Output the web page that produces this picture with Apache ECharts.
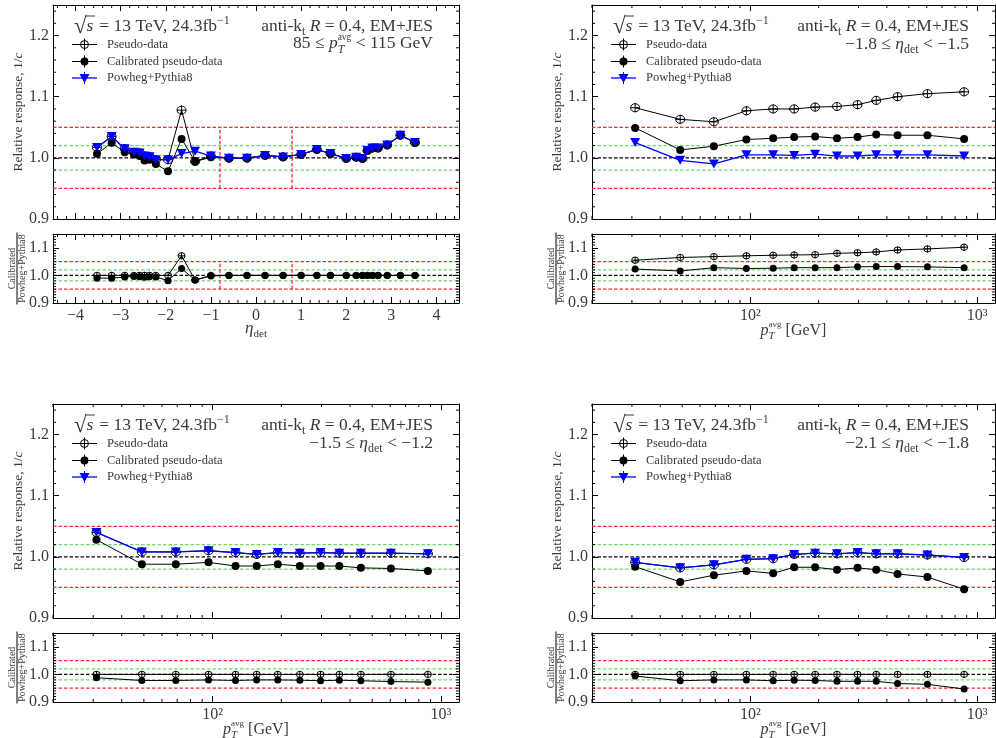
<!DOCTYPE html>
<html><head><meta charset="utf-8">
<script src="https://cdn.jsdelivr.net/npm/echarts@6/dist/echarts.min.js"></script>
<style>html,body{margin:0;padding:0;background:#fff}#c{width:996px;height:738px}</style>
</head><body><div id="c"></div>
<script>
// ---------------- data ----------------
const etaBins = [-3.525,-3.2,-2.91,-2.705,-2.58,-2.47,-2.36,-2.22,-1.95,-1.65,-1.35,-1.0,-0.6,-0.2,0.2,0.6,1.0,1.35,1.65,2.0,2.22,2.36,2.47,2.58,2.705,2.91,3.2,3.525];
const powhegTL = [1.017,1.035,1.015,1.009,1.008,1.003,1.002,0.997,0.997,1.007,1.011,1.003,0.9995,0.9995,1.004,1.0016,1.0055,1.0137,1.007,0.999,1.001,0.999,1.012,1.016,1.016,1.021,1.037,1.025];
const pseudoTL = [1.017,1.035,1.015,1.009,1.008,1.003,1.002,0.997,0.997,1.078,0.994,1.003,0.9995,0.9995,1.004,1.0016,1.0055,1.0137,1.007,0.999,1.001,0.999,1.012,1.016,1.016,1.021,1.037,1.025];
const calibTL = [1.0066,1.0246,1.0093,1.0055,1.003,0.9956,0.997,0.990,0.978,1.031,0.994,1.001,0.9995,0.9995,1.004,1.0016,1.0055,1.0137,1.007,0.999,1.001,0.999,1.012,1.016,1.016,1.021,1.037,1.025];
const ratioPseudoTL = [1.0,1.0,1.0,1.0,1.0,1.0,1.0,1.0,1.0,1.071,0.983,1.0,1.0,1.0,1.0,1.0,1.0,1.0,1.0,1.0,1.0,1.0,1.0,1.0,1.0,1.0,1.0,1.0];
const ratioCalibTL = [0.990,0.990,0.994,0.996,0.995,0.993,0.995,0.994,0.981,1.025,0.983,0.998,1.0,1.0,1.0,1.0,1.0,1.0,1.0,1.0,1.0,1.0,1.0,1.0,1.0,1.0,1.0,1.0];

const ptBins = [31,49,69,96,126,156,193,241,297,359,446,604,877];
const pseudoTR = [1.082,1.063,1.059,1.077,1.080,1.080,1.083,1.084,1.087,1.094,1.100,1.105,1.108];
const calibTR = [1.049,1.013,1.019,1.030,1.032,1.034,1.035,1.032,1.034,1.038,1.037,1.037,1.031];
const powhegTR = [1.025,0.996,0.990,1.005,1.005,1.004,1.006,1.003,1.003,1.005,1.005,1.005,1.003];
const ratioPseudoTR = [1.055,1.065,1.068,1.071,1.073,1.074,1.075,1.080,1.082,1.085,1.092,1.096,1.102];
const ratioCalibTR = [1.023,1.016,1.028,1.025,1.026,1.028,1.028,1.028,1.031,1.032,1.032,1.031,1.028];

const pseudoBL = [1.040,1.008,1.008,1.010,1.007,1.004,1.007,1.006,1.007,1.006,1.006,1.006,1.005];
const calibBL = [1.028,0.988,0.988,0.991,0.985,0.985,0.988,0.985,0.985,0.985,0.982,0.981,0.977];
const powhegBL = [1.040,1.008,1.008,1.010,1.007,1.004,1.007,1.006,1.007,1.006,1.006,1.006,1.005];
const ratioPseudoBL = [1.0,1.0,1.0,1.0,1.0,1.0,1.0,1.0,1.0,1.0,1.0,1.0,1.0];
const ratioCalibBL = [0.988,0.978,0.978,0.980,0.978,0.980,0.980,0.979,0.977,0.979,0.977,0.974,0.972];

const pseudoBR = [0.991,0.982,0.987,0.996,0.997,1.004,1.006,1.005,1.007,1.005,1.005,1.003,0.999];
const calibBR = [0.984,0.959,0.970,0.977,0.973,0.983,0.983,0.979,0.982,0.979,0.972,0.967,0.947];
const powhegBR = [0.991,0.982,0.987,0.996,0.997,1.004,1.006,1.005,1.007,1.005,1.005,1.003,0.999];
const ratioPseudoBR = [1.0,1.0,1.0,1.0,1.0,1.0,1.0,1.0,1.0,1.0,1.0,1.0,1.0];
const ratioCalibBR = [0.994,0.977,0.980,0.980,0.977,0.979,0.978,0.975,0.975,0.975,0.967,0.964,0.947];

// reference lines
const redLines = [0.95, 1.05];
const greenLines = [0.98, 1.02];
const unityLine = 1.0;
const etaRegionEdges = [-0.8, 0.8];

// axis ticks
const etaRange = [-4.5, 4.5];
const etaTicks = [-4,-3,-2,-1,0,1,2,3,4];
const ptRange = [20, 1200];
const ptTicks = [100, 1000];
const ptTickLabels = ['10²', '10³'];
const ptMinorTicks = [20,30,40,50,60,70,80,90,200,300,400,500,600,700,800,900];
const respRange = [0.9, 1.25];
const respTicks = [0.9, 1.0, 1.1, 1.2];
const ratioRange = [0.9, 1.15];
const ratioTicks = [0.9, 1.0, 1.1];

function minorBetween(lo, hi, step, majors) {
  const out = [];
  const n = Math.round((hi - lo) / step);
  for (let k = 1; k < n; k++) {
    const v = +(lo + k * step).toFixed(6);
    if (!majors.some(m => Math.abs(m - v) < 1e-9)) out.push(v);
  }
  return out;
}
const etaMinorTicks = minorBetween(-4.6, 4.6, 0.2, etaTicks).filter(v => v > -4.5 && v < 4.5);
const respMinorTicks = minorBetween(0.9, 1.26, 0.02, respTicks).filter(v => v < 1.25);
const ratioMinorTicks = minorBetween(0.9, 1.16, 0.01, ratioTicks).filter(v => v < 1.15);

// ---------------- style / layout ----------------
const FONT = '"Liberation Serif", "Times New Roman", serif';
const TEXT = '#3a3a3a';
const RED = '#ff2a2a', GREEN = '#6fd86f', BLUE = '#0000ff';
const DASH = [3.5, 2];

const panels = [
  {left:53, top:5, width:406, kind:'eta', x:etaBins, pseudo:pseudoTL, calib:calibTL, powheg:powhegTL, rp:ratioPseudoTL, rc:ratioCalibTL, sel:'pt'},
  {left:592, top:5, width:403, kind:'pt', x:ptBins, pseudo:pseudoTR, calib:calibTR, powheg:powhegTR, rp:ratioPseudoTR, rc:ratioCalibTR, sel:['−1.8','−1.5']},
  {left:53, top:404, width:406, kind:'pt', x:ptBins, pseudo:pseudoBL, calib:calibBL, powheg:powhegBL, rp:ratioPseudoBL, rc:ratioCalibBL, sel:['−1.5','−1.2']},
  {left:592, top:404, width:403, kind:'pt', x:ptBins, pseudo:pseudoBR, calib:calibBR, powheg:powhegBR, rp:ratioPseudoBR, rc:ratioCalibBR, sel:['−2.1','−1.8']}
];
const MAIN_H = 214, RATIO_OFF = 229, RATIO_H = 69;

const OPEN_SYM = 'path://M1,10A9,9 0 1,1 19,10A9,9 0 1,1 1,10Z M10,0L10,20 M1,10L19,10';

// ---------------- text helpers ----------------
const cv = document.createElement('canvas').getContext('2d');
function fontStr(s, it) { return (it ? 'italic ' : '') + s + 'px ' + FONT; }
function tw(t, s, it) { cv.font = fontStr(s, it); return cv.measureText(t).width; }
function mathText(x, base, align, pieces) {
  let total = 0, prevStart = 0, prevW = 0;
  const pos = [];
  pieces.forEach(p => {
    const w = tw(p.t, p.s, p.i) + (p.pad || 0);
    if (p.stack) { pos.push(prevStart); const nw = Math.max(prevW, w); total = prevStart + nw; prevW = nw; }
    else { pos.push(total); prevStart = total; prevW = w; total += w; }
  });
  const x0 = align === 'right' ? x - total : (align === 'center' ? x - total / 2 : x);
  const els = [];
  pieces.forEach((p, k) => {
    const b = base + (p.dy || 0);
    els.push({type:'text', z:100, silent:true, style:{text:p.t, x:x0 + pos[k], y:b - 0.3375 * p.s, font:fontStr(p.s, p.i), fill:TEXT, align:'left', verticalAlign:'middle'}});
    if (p.over) {
      const w = tw(p.t, p.s, p.i);
      els.push({type:'line', z:100, silent:true, shape:{x1:x0 + pos[k] - 1, y1:b - p.over, x2:x0 + pos[k] + w + 1.5, y2:b - p.over}, style:{stroke:TEXT, lineWidth:1}});
    }
  });
  return els;
}

// ---------------- build option ----------------
const grids = [], xAxes = [], yAxes = [], series = [], graphics = [];

function xAxisDef(g, p, isRatio, pos) {
  const isLog = p.kind === 'pt';
  const showLab = isRatio && pos === 'bottom';
  return {
    gridIndex:g, type:isLog ? 'log' : 'value', logBase:10, position:pos,
    min:isLog ? ptRange[0] : etaRange[0], max:isLog ? ptRange[1] : etaRange[1],
    axisLine:{show:true, onZero:false, lineStyle:{color:'#000', width:1}},
    axisTick:{show:true, inside:true, length:6, customValues:isLog ? ptTicks : etaTicks, lineStyle:{color:'#000', width:1}},
    minorTick:{show:false},
    splitLine:{show:false},
    axisLabel:{show:showLab, customValues:isLog ? ptTicks : etaTicks, margin:5, color:TEXT, fontFamily:FONT, fontSize:16,
      formatter:v => isLog ? ptTickLabels[ptTicks.indexOf(v)] || '' : (v < 0 ? '−' + Math.abs(v) : String(v))}
  };
}
function yAxisDef(g, isRatio, pos) {
  const r = isRatio ? ratioRange : respRange;
  const t = isRatio ? ratioTicks : respTicks;
  return {
    gridIndex:g, type:'value', position:pos, min:r[0], max:r[1],
    axisLine:{show:true, onZero:false, lineStyle:{color:'#000', width:1}},
    axisTick:{show:true, inside:true, length:6, customValues:t, lineStyle:{color:'#000', width:1}},
    minorTick:{show:false}, splitLine:{show:false},
    axisLabel:{show:pos === 'left', customValues:t, margin:4, color:TEXT, fontFamily:FONT, fontSize:16, formatter:v => v.toFixed(1)}
  };
}
function tickLine(x1, y1, x2, y2) {
  return {type:'line', shape:{x1, y1, x2, y2}, style:{stroke:'#000', lineWidth:1}};
}
function minorTickSeries(g, dir, values, xr, yr) {
  return {
    type:'custom', xAxisIndex:2 * g, yAxisIndex:2 * g, silent:true, z:10, clip:false, animation:false,
    data:values.map(v => dir === 'x' ? [v, yr[0]] : [xr[0], v]),
    renderItem:(params, api) => {
      if (dir === 'x') {
        const v = api.value(0);
        const a = api.coord([v, yr[0]]), b = api.coord([v, yr[1]]);
        return {type:'group', children:[tickLine(a[0], a[1], a[0], a[1] - 3), tickLine(b[0], b[1], b[0], b[1] + 3)]};
      } else {
        const v = api.value(1);
        const a = api.coord([xr[0], v]), b = api.coord([xr[1], v]);
        return {type:'group', children:[tickLine(a[0], a[1], a[0] + 3, a[1]), tickLine(b[0], b[1], b[0] - 3, b[1])]};
      }
    }
  };
}
function refLineSeries(g, pts, color, w) {
  return {type:'line', xAxisIndex:2 * g, yAxisIndex:2 * g, data:pts, z:1, symbol:'none', silent:true, animation:false,
    emphasis:{disabled:true}, lineStyle:{color:color, width:w || 1.3, type:DASH}};
}

panels.forEach((p, i) => {
  const isLog = p.kind === 'pt';
  const xr = isLog ? ptRange : etaRange;
  const xMinor = isLog ? ptMinorTicks : etaMinorTicks;
  [false, true].forEach(isRatio => {
    const g = grids.length;
    grids.push({left:p.left, top:isRatio ? p.top + RATIO_OFF : p.top, width:p.width, height:isRatio ? RATIO_H : MAIN_H, containLabel:false, outerBoundsMode:'none'});
    xAxes.push(xAxisDef(g, p, isRatio, 'bottom'), xAxisDef(g, p, isRatio, 'top'));
    yAxes.push(yAxisDef(g, isRatio, 'left'), yAxisDef(g, isRatio, 'right'));
    const yr = isRatio ? ratioRange : respRange;
    // reference lines
    greenLines.forEach(v => series.push(refLineSeries(g, [[xr[0], v], [xr[1], v]], GREEN, 1.2)));
    redLines.forEach(v => series.push(refLineSeries(g, [[xr[0], v], [xr[1], v]], RED, 1.3)));
    series.push(refLineSeries(g, [[xr[0], unityLine], [xr[1], unityLine]], '#000', 1.1));
    if (!isLog) etaRegionEdges.forEach(e => series.push(refLineSeries(g, [[e, redLines[0]], [e, redLines[1]]], RED, 1.3)));

    const base = {xAxisIndex:2 * g, yAxisIndex:2 * g, animation:false, emphasis:{disabled:true}, silent:true};
    const pts = arr => p.x.map((x, k) => [x, arr[k]]);
    if (!isRatio) {
      series.push(Object.assign({type:'line', data:pts(p.pseudo), z:3, symbol:OPEN_SYM, symbolSize:9,
        lineStyle:{color:'#000', width:1}, itemStyle:{color:'rgba(0,0,0,0)', borderColor:'#000', borderWidth:1}}, base));
      series.push(Object.assign({type:'line', data:pts(p.calib), z:4, symbol:'circle', symbolSize:8,
        lineStyle:{color:'#000', width:1}, itemStyle:{color:'#000'}}, base));
      series.push(Object.assign({type:'line', data:pts(p.powheg), z:5, symbol:'triangle', symbolRotate:180, symbolSize:[10, 9],
        lineStyle:{color:BLUE, width:1.3}, itemStyle:{color:BLUE}}, base));
    } else {
      series.push(Object.assign({type:'line', data:pts(p.rp), z:3, symbol:OPEN_SYM, symbolSize:7,
        lineStyle:{color:'#000', width:1}, itemStyle:{color:'rgba(0,0,0,0)', borderColor:'#000', borderWidth:1}}, base));
      series.push(Object.assign({type:'line', data:pts(p.rc), z:4, symbol:'circle', symbolSize:7,
        lineStyle:{color:'#000', width:1}, itemStyle:{color:'#000'}}, base));
    }
    series.push(minorTickSeries(g, 'x', xMinor, xr, yr));
    series.push(minorTickSeries(g, 'y', isRatio ? ratioMinorTicks : respMinorTicks, xr, yr));
  });

  // ---- annotations ----
  const L = p.left, T = p.top, R = p.left + p.width;
  const F = 17.5, S = 12;
  graphics.push(...mathText(L + 21, T + 27, 'left', [
    {t:'√', s:23, dy:3}, {t:'s', s:F, i:1, over:16, pad:1.5}, {t:' = 13 TeV, 24.3fb', s:F}, {t:'−1', s:S, dy:-7.5}]));
  graphics.push(...mathText(R - 26, T + 27, 'right', [
    {t:'anti-k', s:F}, {t:'t', s:S, dy:3.5}, {t:' ', s:F}, {t:'R', s:F, i:1}, {t:' = 0.4, EM+JES', s:F}]));
  if (p.sel === 'pt') {
    graphics.push(...mathText(R - 26, T + 44.5, 'right', [
      {t:'85 ≤ ', s:F}, {t:'p', s:F, i:1}, {t:'T', s:S, i:1, dy:4}, {t:'avg', s:9.5, dy:-9, stack:1}, {t:' < 115 GeV', s:F}]));
  } else {
    graphics.push(...mathText(R - 26, T + 45, 'right', [
      {t:p.sel[0] + ' ≤ ', s:F}, {t:'η', s:F, i:1}, {t:'det', s:S, dy:4}, {t:' < ' + p.sel[1], s:F}]));
  }
  // ---- legend ----
  const lx0 = L + 19, lx1 = L + 44, mx = L + 31.5, tx = L + 54;
  const rows = [T + 39.5, T + 56.5, T + 73];
  const names = ['Pseudo-data', 'Calibrated pseudo-data', 'Powheg+Pythia8'];
  rows.forEach((y, k) => {
    const c = k === 2 ? BLUE : '#000';
    graphics.push({type:'line', z:100, silent:true, shape:{x1:lx0, y1:y, x2:lx1, y2:y}, style:{stroke:c, lineWidth:k === 2 ? 1.3 : 1}});
    graphics.push({type:'line', z:100, silent:true, shape:{x1:mx, y1:y - 6, x2:mx, y2:y + 6}, style:{stroke:c, lineWidth:1}});
    if (k === 0) graphics.push({type:'circle', z:101, silent:true, shape:{cx:mx, cy:y, r:4}, style:{fill:'none', stroke:'#000', lineWidth:1}});
    if (k === 1) graphics.push({type:'circle', z:101, silent:true, shape:{cx:mx, cy:y, r:4}, style:{fill:'#000'}});
    if (k === 2) graphics.push({type:'polygon', z:101, silent:true, shape:{points:[[mx - 5, y - 4], [mx + 5, y - 4], [mx, y + 5]]}, style:{fill:BLUE}});
    graphics.push({type:'text', z:100, silent:true, style:{text:names[k], x:tx, y:y, font:fontStr(12.5), fill:TEXT, verticalAlign:'middle'}});
  });
  // ---- y labels ----
  graphics.push({type:'group', x:L - 35, y:T + MAIN_H / 2, rotation:Math.PI / 2, silent:true,
    children:mathText(0, 0.3375 * 13.5, 'center', [{t:'Relative response, 1/', s:13.5}, {t:'c', s:13.5, i:1}])});
  const rT = T + RATIO_OFF;
  graphics.push({type:'group', x:L - 36, y:rT + RATIO_H / 2, rotation:Math.PI / 2, silent:true,
    children:[
      {type:'text', style:{text:'Calibrated', x:0, y:-4.5, font:fontStr(10), fill:TEXT, align:'center', verticalAlign:'middle'}},
      {type:'line', shape:{x1:-36, y1:0, x2:36, y2:0}, style:{stroke:'#000', lineWidth:1}},
      {type:'text', style:{text:'Powheg+Pythia8', x:0, y:5.5, font:fontStr(10), fill:TEXT, align:'center', verticalAlign:'middle'}}
    ]});
  // ---- x labels ----
  const cx = L + p.width / 2, xb = rT + RATIO_H + 31;
  if (p.kind === 'eta') {
    graphics.push(...mathText(cx, xb, 'center', [{t:'η', s:17, i:1}, {t:'det', s:11, dy:4}]));
  } else {
    graphics.push(...mathText(cx, xb + 2, 'center', [{t:'p', s:16, i:1}, {t:'T', s:11, i:1, dy:4}, {t:'avg', s:9, dy:-8, stack:1}, {t:' [GeV]', s:16}]));
  }
});

const chart = echarts.init(document.getElementById('c'), null, {renderer:'canvas'});
chart.setOption({
  animation:false,
  backgroundColor:'#fff',
  grid:grids, xAxis:xAxes, yAxis:yAxes, series:series, graphic:graphics
});
</script>
</body></html>
